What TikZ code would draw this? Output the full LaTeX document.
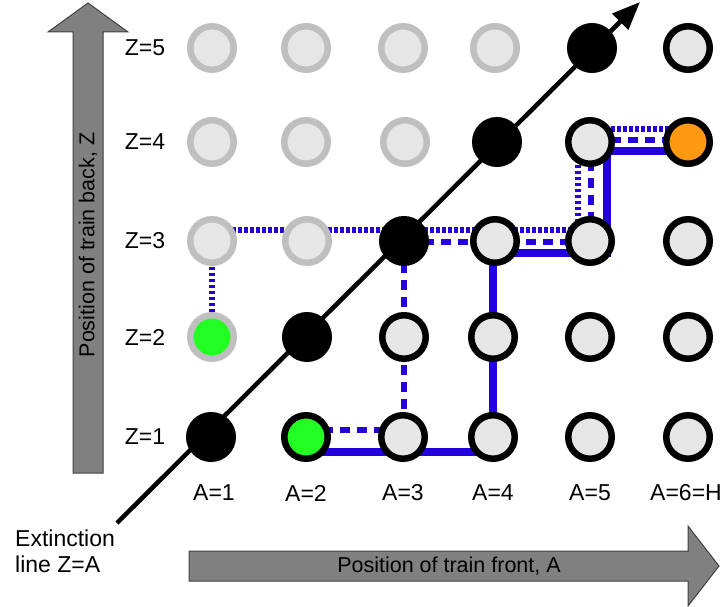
\documentclass[tikz,border=0pt]{standalone}
\usepackage{fontspec}
\setmainfont{Liberation Sans}
\usetikzlibrary{arrows.meta,calc}
\pgfdeclarelayer{background}
\pgfsetlayers{background,main}
\definecolor{cfill}{HTML}{E6E6E6}
\definecolor{cring}{HTML}{BFBFBF}
\definecolor{cgreen}{HTML}{22FF22}
\definecolor{corange}{HTML}{FF9912}
\definecolor{cblue}{RGB}{35,0,220}
\definecolor{carrow}{HTML}{808080}
\definecolor{carrowline}{HTML}{404040}
\begin{document}
\begin{tikzpicture}[x=1pt,y=-1pt,
  dotnode/.style={circle,minimum size=43.5pt,inner sep=0pt,line width=6.5pt},
  upper/.style={dotnode,draw=cring,fill=cfill},
  lower/.style={dotnode,draw=black,fill=cfill},
  extn/.style={dotnode,draw=black,fill=black},
  lab/.style={font=\fontsize{23}{27}\selectfont,inner sep=0pt},
  axlab/.style={font=\fontsize{21.5}{25}\selectfont,inner sep=0pt},
  blockarrow/.style={fill=carrow,draw=carrowline,line width=1pt},
  bsolid/.style={draw=cblue,line width=8.5pt},
  bdashed/.style={draw=cblue,line width=5.5pt,dash pattern=on 10pt off 7pt},
  bdotted/.style={draw=cblue,line width=5.5pt,dash pattern=on 3.5pt off 2.5pt},
  extline/.style={draw=black,line width=4.5pt,-{Triangle[length=28pt,width=22pt]}}
]
\useasboundingbox (0,0) rectangle (722,607);

% block arrows
\draw[blockarrow] (73,473) -- (73,32) -- (48,32) -- (88,3) -- (128,32) -- (103,32) -- (103,473) -- cycle;
\draw[blockarrow] (189,551) -- (688,551) -- (688,526) -- (719,566) -- (688,606) -- (688,581) -- (189,581) -- cycle;
\node[axlab,rotate=90] (ylab) at (88,245) {Position of train back, Z};
\node[axlab] (xlab) at (449,566) {Position of train front, A};

% circles
\node[upper] (n15) at (212,48) {};
\node[upper] (n25) at (306,48) {};
\node[upper] (n35) at (403,48) {};
\node[upper] (n45) at (495,48) {};
\node[extn]  (n55) at (592,48) {};
\node[lower] (n65) at (688,48) {};
\node[upper] (n14) at (212,142) {};
\node[upper] (n24) at (306,142) {};
\node[upper] (n34) at (405,142) {};
\node[extn]  (n44) at (497,142) {};
\node[lower] (n54) at (590,142) {};
\node[lower,fill=corange] (n64) at (688,142) {};
\node[upper] (n13) at (212,241) {};
\node[upper] (n23) at (307,241) {};
\node[extn]  (n33) at (404,241) {};
\node[lower] (n43) at (495,241) {};
\node[lower] (n53) at (590,241) {};
\node[lower] (n63) at (688,241) {};
\node[upper,fill=cgreen] (n12) at (212,337) {};
\node[extn]  (n22) at (307,337) {};
\node[lower] (n32) at (404,337) {};
\node[lower] (n42) at (493,337) {};
\node[lower] (n52) at (590,337) {};
\node[lower] (n62) at (688,337) {};
\node[extn]  (n11) at (211,437) {};
\node[lower,fill=cgreen] (n21) at (306,437) {};
\node[lower] (n31) at (403,437) {};
\node[lower] (n41) at (493,437) {};
\node[lower] (n51) at (590,437) {};
\node[lower] (n61) at (688,437) {};

\begin{pgfonlayer}{background}
  % extinction line
  \coordinate (extend) at (117,523);
  \coordinate (exttip) at (640,2);
  \draw[extline] (extend) -- (exttip);
  % blue paths
  \draw[bsolid] ($(n21)+(0,15)$) -| ($(n43)+(-2,12)$) -| ($(n54)+(17,9)$) -- ($(n64)+(0,9)$);
  \draw[bdashed] ($(n21)+(0,-7)$) -| ($(n33)+(0,1)$) -| ($(n54)+(1,-2)$) -- ($(n64)+(0,-2)$);
  \draw[bdotted] (n12) |- ($(n53)+(-12,-11)$) |- ($(n64)+(0,-13)$);
\end{pgfonlayer}

% row labels
\node[lab] (z5) at (145,48) {Z=5};
\node[lab] (z4) at (145,142) {Z=4};
\node[lab] (z3) at (145,241) {Z=3};
\node[lab] (z2) at (145,337) {Z=2};
\node[lab] (z1) at (145,437) {Z=1};
% column labels
\node[lab] (a1) at (214,493) {A=1};
\node[lab] (a2) at (306,493) {A=2};
\node[lab] (a3) at (403,493) {A=3};
\node[lab] (a4) at (493,493) {A=4};
\node[lab] (a5) at (590,493) {A=5};
\node[lab] (a6) at (686,493) {A=6=H};
% extinction label
\node[lab,anchor=base west] (ext1) at (15,546) {Extinction};
\node[lab,anchor=base west] (ext2) at (15,572) {line Z=A};
\end{tikzpicture}
\end{document}
